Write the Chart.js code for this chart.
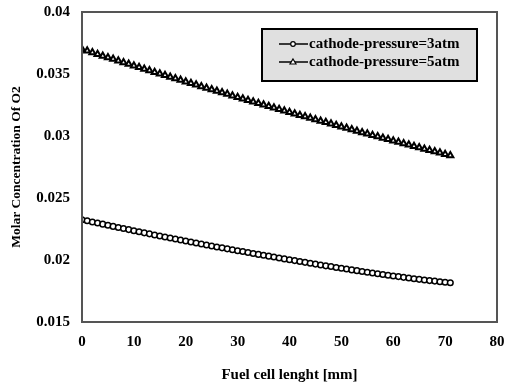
<!DOCTYPE html>
<html>
<head>
<meta charset="utf-8">
<script src="https://cdn.jsdelivr.net/npm/chart.js@4.4.0/dist/chart.umd.min.js"></script>
<style>
  html, body { margin: 0; padding: 0; background: #fff; }
  #wrap { width: 506px; height: 386px; }
</style>
</head>
<body>
<div id="wrap"><canvas id="chart" width="506" height="386"></canvas></div>
<script>
// Fuel cell length in mm (one point per mm)
const lengthMm = [
    0, 1, 2, 3, 4, 5, 6, 7, 8, 9, 10, 11, 12, 13, 14, 15, 16, 17, 18, 19,
    20, 21, 22, 23, 24, 25, 26, 27, 28, 29, 30, 31, 32, 33, 34, 35, 36, 37, 38, 39,
    40, 41, 42, 43, 44, 45, 46, 47, 48, 49, 50, 51, 52, 53, 54, 55, 56, 57, 58, 59,
    60, 61, 62, 63, 64, 65, 66, 67, 68, 69, 70, 71
];

// Molar concentration of O2, cathode pressure 3 atm
const pressure3atm = [
    0.02325, 0.02316, 0.02307, 0.02298, 0.02289, 0.02280, 0.02271, 0.02262, 0.02254, 0.02245,
    0.02236, 0.02228, 0.02219, 0.02211, 0.02202, 0.02194, 0.02186, 0.02178, 0.02169, 0.02161,
    0.02153, 0.02145, 0.02137, 0.02129, 0.02121, 0.02113, 0.02105, 0.02098, 0.02090, 0.02083,
    0.02075, 0.02068, 0.02060, 0.02053, 0.02045, 0.02038, 0.02031, 0.02024, 0.02016, 0.02009,
    0.02002, 0.01995, 0.01988, 0.01981, 0.01974, 0.01967, 0.01960, 0.01953, 0.01947, 0.01940,
    0.01933, 0.01927, 0.01920, 0.01914, 0.01907, 0.01901, 0.01895, 0.01889, 0.01883, 0.01877,
    0.01871, 0.01866, 0.01860, 0.01855, 0.01849, 0.01844, 0.01839, 0.01834, 0.01830, 0.01825,
    0.01820, 0.01816
];

// Molar concentration of O2, cathode pressure 5 atm
const pressure5atm = [
    0.03700, 0.03687, 0.03673, 0.03660, 0.03646, 0.03633, 0.03620, 0.03607, 0.03593, 0.03580,
    0.03567, 0.03554, 0.03541, 0.03528, 0.03515, 0.03502, 0.03489, 0.03476, 0.03464, 0.03451,
    0.03438, 0.03425, 0.03413, 0.03400, 0.03388, 0.03375, 0.03363, 0.03350, 0.03338, 0.03325,
    0.03313, 0.03301, 0.03289, 0.03276, 0.03264, 0.03252, 0.03240, 0.03228, 0.03216, 0.03204,
    0.03192, 0.03180, 0.03168, 0.03157, 0.03145, 0.03133, 0.03121, 0.03110, 0.03098, 0.03087,
    0.03075, 0.03064, 0.03052, 0.03041, 0.03029, 0.03018, 0.03007, 0.02996, 0.02984, 0.02973,
    0.02962, 0.02951, 0.02940, 0.02929, 0.02918, 0.02907, 0.02896, 0.02885, 0.02875, 0.02864,
    0.02853, 0.02842
];

const seriesLabels = ['cathode-pressure=3atm', 'cathode-pressure=5atm'];
const xTicks = [0, 10, 20, 30, 40, 50, 60, 70, 80];
const yTicks = [0.015, 0.02, 0.025, 0.03, 0.035, 0.04];

const FONT = 'Liberation Serif, Times New Roman, serif';

function toPoints(values) {
    return values.map((v, i) => ({ x: lengthMm[i], y: v }));
}

// white background and frame around the plot area
const frame = {
    id: 'frame',
    beforeDraw(chart) {
        const c = chart.ctx;
        c.save();
        c.fillStyle = '#fff';
        c.fillRect(0, 0, chart.width, chart.height);
        c.restore();
    },
    afterDatasetsDraw(chart) {
        const a = chart.chartArea;
        const c = chart.ctx;
        c.save();
        c.strokeStyle = '#555';
        c.lineWidth = 2;
        c.strokeRect(a.left, a.top, a.right - a.left, a.bottom - a.top);
        c.restore();
    }
};

// grey legend box in the upper right
const legendBox = {
    id: 'legendBox',
    afterDraw(chart) {
        const c = chart.ctx;
        const x = 262, y = 29, w = 215, h = 52;
        c.save();
        c.fillStyle = '#e0e0e0';
        c.fillRect(x, y, w, h);
        c.strokeStyle = '#000';
        c.lineWidth = 2;
        c.strokeRect(x, y, w, h);
        chart.data.datasets.forEach((ds, i) => {
            const ly = y + 15 + i * 18;
            c.strokeStyle = '#000';
            c.lineWidth = 1.5;
            c.beginPath();
            c.moveTo(x + 17, ly);
            c.lineTo(x + 46, ly);
            c.stroke();
            c.fillStyle = '#fff';
            c.lineWidth = 1.2;
            c.beginPath();
            if (i === 0) {
                c.arc(x + 31, ly, 2.3, 0, Math.PI * 2);
            } else {
                c.moveTo(x + 31, ly - 3);
                c.lineTo(x + 34, ly + 2);
                c.lineTo(x + 28, ly + 2);
                c.closePath();
            }
            c.fill();
            c.stroke();
            c.fillStyle = '#000';
            c.font = 'bold 15px ' + FONT;
            c.textBaseline = 'middle';
            c.fillText(ds.label, x + 47, ly);
        });
        c.restore();
    }
};

const ctx = document.getElementById('chart').getContext('2d');
new Chart(ctx, {
    type: 'line',
    data: {
        datasets: [{
            label: seriesLabels[0],
            data: toPoints(pressure3atm),
            borderColor: '#000',
            borderWidth: 1,
            backgroundColor: '#fff',
            pointStyle: 'circle',
            pointRadius: 2.8,
            pointBorderWidth: 1.5,
            pointBorderColor: '#000',
            pointBackgroundColor: '#fff',
            tension: 0
        }, {
            label: seriesLabels[1],
            data: toPoints(pressure5atm),
            borderColor: '#000',
            borderWidth: 1,
            backgroundColor: '#fff',
            pointStyle: 'triangle',
            pointRadius: 3.5,
            pointBorderWidth: 2,
            pointBorderColor: '#000',
            pointBackgroundColor: '#fff',
            tension: 0
        }]
    },
    options: {
        responsive: false,
        animation: false,
        layout: { autoPadding: false, padding: { top: 12, right: 9, left: 0, bottom: 0 } },
        plugins: {
            legend: { display: false },
            tooltip: { enabled: false }
        },
        scales: {
            x: {
                type: 'linear',
                min: 0,
                max: 80,
                afterBuildTicks(axis) { axis.ticks = xTicks.map(v => ({ value: v })); },
                afterFit(axis) {
                    axis.height = 64;
                    axis.paddingLeft = 0;
                    axis.paddingRight = 0;
                },
                grid: { display: false, drawTicks: false },
                border: { display: false },
                ticks: {
                    padding: 11,
                    color: '#000',
                    font: { family: FONT, size: 15, weight: 'bold' }
                },
                title: {
                    display: true,
                    text: 'Fuel cell lenght [mm]',
                    color: '#000',
                    font: { family: FONT, size: 15, weight: 'bold' },
                    padding: { top: 0, bottom: 2 }
                }
            },
            y: {
                min: 0.015,
                max: 0.04,
                afterBuildTicks(axis) { axis.ticks = yTicks.map(v => ({ value: v })); },
                afterFit(axis) {
                    axis.width = 82;
                    axis.paddingTop = 0;
                    axis.paddingBottom = 0;
                },
                grid: { display: false, drawTicks: false },
                border: { display: false },
                ticks: {
                    padding: 12,
                    color: '#000',
                    font: { family: FONT, size: 15, weight: 'bold' },
                    callback: v => String(Number(v.toFixed(3)))
                },
                title: {
                    display: true,
                    text: 'Molar Concentration Of O2',
                    color: '#000',
                    font: { family: FONT, size: 13.5, weight: 'bold' },
                    padding: { top: 8, bottom: 0 }
                }
            }
        }
    },
    plugins: [frame, legendBox]
});
</script>
</body>
</html>
